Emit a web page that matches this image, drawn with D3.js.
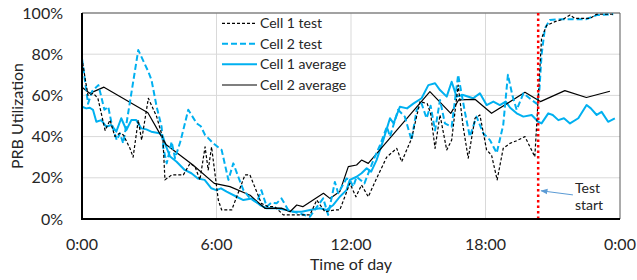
<!DOCTYPE html>
<html>
<head>
<meta charset="utf-8">
<script src="https://d3js.org/d3.v7.min.js"></script>
<style>
  body { margin: 0; background: #fff; }
  text { font-family: Lato, "Open Sans", sans-serif; fill: #262626; }
</style>
</head>
<body>
<div id="chart"></div>
<script>
// Data: hour of day and PRB utilization (%)
const cell1TestHours = [0,0.15,0.27,0.5,0.71,1.03,1.25,1.47,1.68,1.85,2.14,2.28,2.51,2.66,2.96,3.33,3.61,3.7,4.0,4.52,4.82,5.04,5.26,5.49,5.63,5.78,6.08,6.23,6.68,7.27,7.49,8.0,8.3,8.6,8.98,10.17,10.47,10.84,11.28,11.5,11.95,12.22,12.47,12.77,13.14,13.59,14.04,14.26,14.7,15.08,15.4,15.55,15.75,15.97,16.27,16.49,16.78,17.0,17.23,17.53,17.75,18.05,18.27,18.52,18.79,19.09,19.39,19.76,20.2,20.35,20.5,20.73,21.1,21.47,21.77,21.99,22.66,22.96,23.77];
const cell1Test = [78,67.5,60,61,58.6,43,48,40,41.6,40.8,34.3,30,48,38.3,58.6,49.7,39,19,21.4,21.4,27,25.4,19,35,23.8,35,9.2,4.4,4.4,21.4,21.4,7.6,6,6,2,2,9.2,3.5,4.4,4.4,17.3,10.8,16.5,10.8,19.7,30,34.3,27.8,39,57,56,51.3,34.3,50.5,33.5,38.3,65,45,29.5,48.9,50.5,33.5,31,19,34.3,36.7,38,40,30.2,58.6,87.7,94,95.8,97,99,97.4,97.4,99.4,99.4];

const cell2TestHours = [0,0.27,0.45,0.73,0.86,1.0,1.17,1.32,1.55,1.69,1.84,1.95,2.51,2.96,3.1,3.33,3.55,3.63,3.78,4.0,4.15,4.4,4.74,5.12,5.3,5.49,5.86,6.23,6.53,6.75,6.97,7.2,7.5,7.8,8.0,8.24,8.45,8.68,8.9,9.2,9.6,10.17,10.35,10.76,10.98,11.28,11.43,11.8,11.95,12.1,12.25,12.6,13.0,13.3,13.6,13.74,14.1,14.4,14.7,14.93,15.15,15.37,15.55,15.75,15.97,16.19,16.49,16.78,17.08,17.3,17.6,17.9,18.2,18.5,18.79,19.0,19.2,19.39,19.69,20.06,20.28,20.4,20.5,20.65,20.87,21.4,22.2,22.5,22.96,23.7];
const cell2Test = [78,56,62,65,59.4,53,54.5,46.4,38.3,41.6,36.7,44,82,71.5,67.5,54.5,44.8,34.3,27,37.5,29.5,38,53,46.4,45,40.8,36.7,33.5,19,27,20.5,14,10,8,14,6,8,7.6,10,4.4,3,1.1,4,10,2,18,12.5,19.7,19,15.7,20.5,17.3,28.6,36,44.8,40,53,49.7,38.3,53,56,48.9,55,43,57.8,46.4,44.8,70,52,40,49.7,41.6,38.3,32,45.6,70,60,53,61,57.8,56,62,79.6,92.6,96.6,97,97,97,99,99.4];

const cell1AvgHours = [0,0.19,0.35,0.49,0.64,0.86,1.08,1.31,1.53,1.75,1.98,2.2,2.42,2.64,2.87,3.09,3.46,3.61,3.69,3.93,4.22,4.58,4.88,5.17,5.47,5.77,5.99,6.2,6.45,6.9,7.2,7.57,7.94,8.24,8.68,9.13,9.42,9.8,10.17,10.62,10.91,11.21,11.5,11.8,11.95,12.25,12.47,12.7,12.9,13.14,13.44,13.74,13.9,14.18,14.5,14.78,15.15,15.45,15.75,15.97,16.27,16.49,16.71,17.0,17.45,17.75,18.05,18.35,18.64,18.9,19.1,19.39,19.69,20.06,20.35,20.5,20.8,21.0,21.25,21.5,21.77,22.14,22.51,22.7,22.96,23.18,23.47,23.77];
const cell1Avg = [54.5,53.7,54,53,47.2,48,44.8,45.6,42.4,48.9,43.2,48,48,44,43.5,42.4,41.6,40,37,30.3,27.8,23.8,22.2,19.7,19,14.9,14,14.9,13.3,10.8,9.2,10,6.8,5.2,5.2,4.4,3.5,3.5,4.4,5.2,4.4,6.8,10.8,14,19,20.5,22.2,24.6,23,28.6,38.3,48.9,46.4,54.5,53.7,56,58.6,65,65.9,62.6,59.4,66.6,59.4,60.2,58.6,61,55.3,57,55.3,57,54,51.3,49.7,50.5,47.2,46.4,51.3,50.5,48,48.9,46.4,48.9,55.3,53.7,50.5,52,47.2,48.9];

const cell2AvgHours = [0,0.34,0.98,2.94,3.6,3.76,4.95,5.9,6.6,7.5,8.16,8.9,9.28,9.58,9.85,10.77,11.06,11.5,11.88,12.25,12.47,12.77,15.52,16.45,16.8,17.53,18.27,19.76,20.45,21.54,22.5,23.55];
const cell2Avg = [64,61,64,51.6,39,36,26.2,17.3,15.7,11.5,5.2,5.3,3.5,6.8,6,12.5,10,13.3,25.4,26.2,28.6,27,61.8,51.3,57.8,58.1,51.3,61.5,57,62.3,59,62];

const yTicks = [0, 20, 40, 60, 80, 100];
const xTicks = [0, 6, 12, 18, 24];
const xTickLabels = ["0:00", "6:00", "12:00", "18:00", "0:00"];
const legendLabels = ["Cell 1 test", "Cell 2 test", "Cell 1 average", "Cell 2 average"];
const testStart = 20.35;

const width = 637, height = 280;
const margin = {top: 13, right: 17, bottom: 61, left: 82};

const svg = d3.select("#chart").append("svg")
  .attr("width", width)
  .attr("height", height);

const x = d3.scaleLinear().domain([0, 24]).range([margin.left, width - margin.right]);
const y = d3.scaleLinear().domain([0, 100]).range([height - margin.bottom, margin.top]);

// gridlines
svg.append("g")
  .selectAll("line")
  .data(yTicks.filter(d => d > 0))
  .join("line")
  .attr("x1", x(0)).attr("x2", x(24))
  .attr("y1", d => y(d)).attr("y2", d => y(d))
  .attr("stroke", "#d9d9d9").attr("stroke-width", 1);

svg.append("g")
  .selectAll("line")
  .data(xTicks.filter(d => d > 0 && d < 24))
  .join("line")
  .attr("x1", d => x(d)).attr("x2", d => x(d))
  .attr("y1", y(0)).attr("y2", y(100))
  .attr("stroke", "#d9d9d9").attr("stroke-width", 1);

// plot frame: top and right
svg.append("path")
  .attr("d", `M${x(0)},${y(100)}H${x(24)}V${y(0)}`)
  .attr("fill", "none")
  .attr("stroke", "#595959")
  .attr("stroke-width", 1);

// tick labels
svg.append("g")
  .selectAll("text")
  .data(yTicks)
  .join("text")
  .attr("x", x(0) - 19)
  .attr("y", d => y(d))
  .attr("dy", "0.35em")
  .attr("text-anchor", "end")
  .style("font-size", "16px")
  .text(d => d + "%");

svg.append("g")
  .selectAll("text")
  .data(xTicks)
  .join("text")
  .attr("x", d => x(d))
  .attr("y", y(0) + 31)
  .attr("text-anchor", "middle")
  .style("font-size", "16px")
  .text((d, i) => xTickLabels[i]);

// axis titles
svg.append("text")
  .attr("x", (x(0) + x(24)) / 2)
  .attr("y", 270)
  .attr("text-anchor", "middle")
  .style("font-size", "16px")
  .text("Time of day");

svg.append("text")
  .attr("transform", `translate(23,${(y(0) + y(100)) / 2}) rotate(-90)`)
  .attr("text-anchor", "middle")
  .style("font-size", "16px")
  .text("PRB Utilization");

// series
const line = d3.line().x(d => x(d[0])).y(d => y(d[1]));
const zip = (hs, vs) => hs.map((h, i) => [h, vs[i]]);

const series = [
  {data: zip(cell1TestHours, cell1Test), color: "#000", width: 1.2, dash: "3,2"},
  {data: zip(cell2TestHours, cell2Test), color: "#00b0f0", width: 2, dash: "6,3"},
  {data: zip(cell1AvgHours, cell1Avg), color: "#00b0f0", width: 2, dash: null},
  {data: zip(cell2AvgHours, cell2Avg), color: "#000", width: 1.2, dash: null}
];

// draw order: averages under tests roughly as in the picture
[2, 3, 1, 0].forEach(i => {
  const s = series[i];
  svg.append("path")
    .datum(s.data)
    .attr("d", line)
    .attr("fill", "none")
    .attr("stroke", s.color)
    .attr("stroke-width", s.width)
    .attr("stroke-linejoin", "round")
    .attr("stroke-dasharray", s.dash);
});

// test start marker
svg.append("line")
  .attr("x1", x(testStart)).attr("x2", x(testStart))
  .attr("y1", y(0)).attr("y2", y(100))
  .attr("stroke", "#ff0000")
  .attr("stroke-width", 2.5)
  .attr("stroke-dasharray", "2.5,3");

// axes (left and bottom, heavy black)
svg.append("line")
  .attr("x1", x(0)).attr("x2", x(0))
  .attr("y1", y(0) + 1).attr("y2", y(100))
  .attr("stroke", "#000").attr("stroke-width", 2);
svg.append("line")
  .attr("x1", x(0) - 1).attr("x2", x(24))
  .attr("y1", y(0)).attr("y2", y(0))
  .attr("stroke", "#000").attr("stroke-width", 2);

// annotation
svg.append("defs").append("marker")
  .attr("id", "arrow")
  .attr("viewBox", "0 0 10 10")
  .attr("refX", 9).attr("refY", 5)
  .attr("markerWidth", 7).attr("markerHeight", 7)
  .attr("orient", "auto")
  .append("path")
  .attr("d", "M0,1L10,5L0,9Z")
  .attr("fill", "#5b9bd5");

svg.append("line")
  .attr("x1", x(21.9)).attr("y1", y(11.7))
  .attr("x2", x(testStart) + 3).attr("y2", y(13.7))
  .attr("stroke", "#5b9bd5")
  .attr("stroke-width", 1)
  .attr("marker-end", "url(#arrow)");

svg.append("text")
  .attr("x", x(21.99)).attr("y", y(15))
  .attr("dy", "0.35em")
  .style("font-size", "14px")
  .text("Test");
svg.append("text")
  .attr("x", x(21.99)).attr("y", y(6.8))
  .attr("dy", "0.35em")
  .style("font-size", "14px")
  .text("start");

// legend
const legend = svg.append("g");
const rowY = [23.3, 43.7, 64.3, 85];
legendLabels.forEach((label, i) => {
  const s = series[i];
  legend.append("line")
    .attr("x1", 222).attr("x2", 257)
    .attr("y1", rowY[i]).attr("y2", rowY[i])
    .attr("stroke", s.color)
    .attr("stroke-width", s.width)
    .attr("stroke-dasharray", s.dash);
  legend.append("text")
    .attr("x", 260).attr("y", rowY[i])
    .attr("dy", "0.35em")
    .style("font-size", "14px")
    .text(label);
});
</script>
</body>
</html>
